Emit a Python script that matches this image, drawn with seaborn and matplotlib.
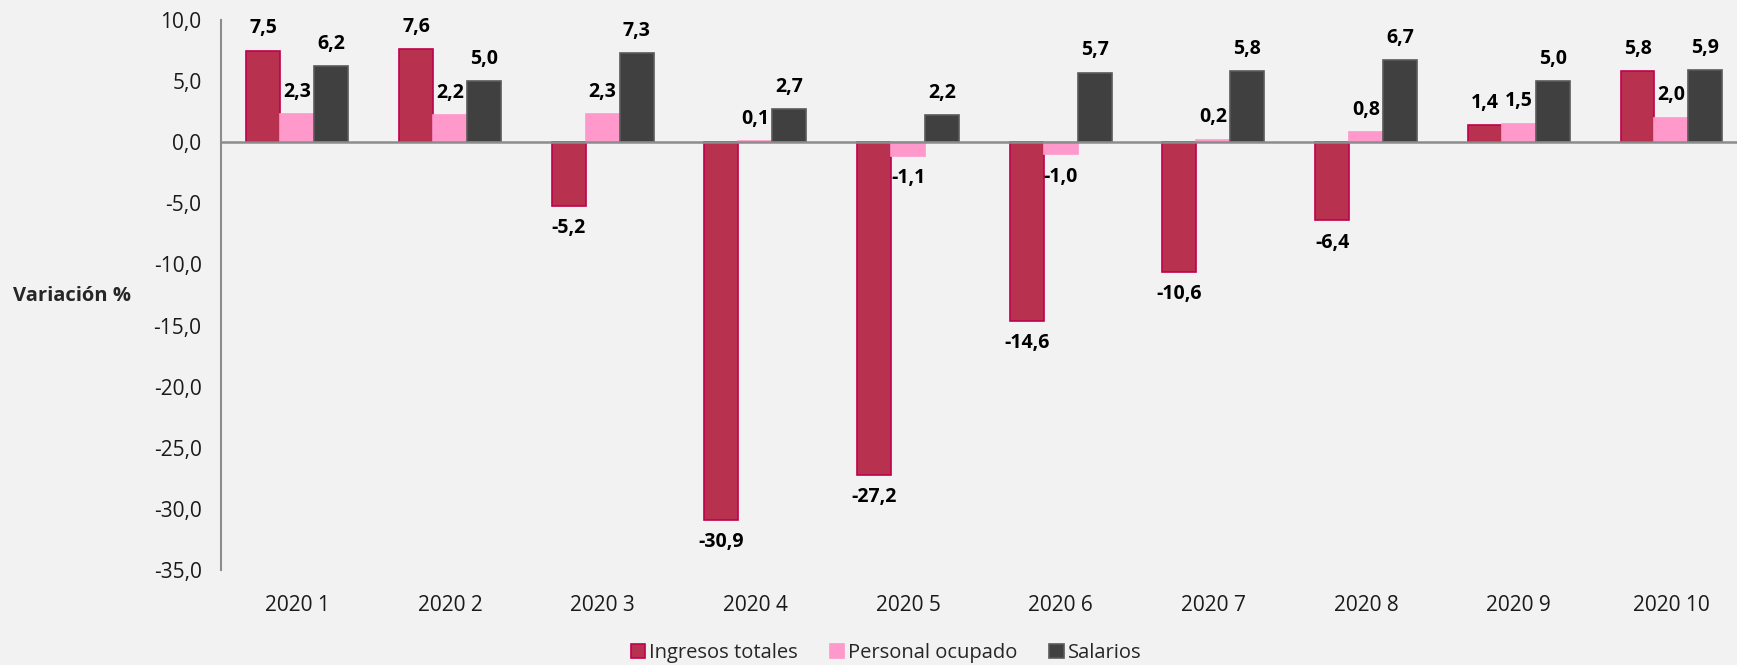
import pandas as pd
import matplotlib.pyplot as plt
import seaborn as sns

# chart values
periodos = ['2020 1', '2020 2', '2020 3', '2020 4', '2020 5',
            '2020 6', '2020 7', '2020 8', '2020 9', '2020 10']
ingresos = [7.5, 7.6, -5.2, -30.9, -27.2, -14.6, -10.6, -6.4, 1.4, 5.8]
personal = [2.3, 2.2, 2.3, 0.1, -1.1, -1.0, 0.2, 0.8, 1.5, 2.0]
salarios = [6.2, 5.0, 7.3, 2.7, 2.2, 5.7, 5.8, 6.7, 5.0, 5.9]
series = ['Ingresos totales', 'Personal ocupado', 'Salarios']
yticks = [10, 5, 0, -5, -10, -15, -20, -25, -30, -35]

df = pd.DataFrame({
    'periodo': periodos * 3,
    'serie': [series[0]] * 10 + [series[1]] * 10 + [series[2]] * 10,
    'valor': ingresos + personal + salarios,
})

sns.set_style('white')
plt.rcParams['font.family'] = ['Open Sans', 'DejaVu Sans']

bg = '#F2F2F2'
colors = ['#B83250', '#FF99CC', '#404040']
edges = ['#C0004D', '#FF99CC', '#5A5A5A']

fig = plt.figure(figsize=(17.37, 6.65), dpi=100, facecolor=bg)
ax = fig.add_axes([0.1272, 0.1429, 0.879, 0.827], facecolor=bg)

sns.barplot(data=df, x='periodo', y='valor', hue='serie', order=periodos,
            hue_order=series, palette=colors, width=0.667, gap=0,
            saturation=1, ax=ax, legend=True)

for cont, ec, vals in zip(ax.containers, edges, [ingresos, personal, salarios]):
    for bar in cont:
        bar.set_edgecolor(ec)
        bar.set_linewidth(1.2)
    labels = [f'{v:.1f}'.replace('.', ',') for v in vals]
    ax.bar_label(cont, labels=labels, padding=9, fontsize=14,
                 fontweight='bold', color='black')

ax.set_xlim(-0.5, 9.5)
ax.set_ylim(-35, 10)
ax.set_yticks(yticks)
ax.set_yticklabels([f'{v:.1f}'.replace('.', ',') for v in yticks])
ax.tick_params(axis='y', length=0, labelsize=15, pad=14, colors='#1A1A1A')
ax.tick_params(axis='x', length=0, labelsize=15, pad=18, colors='#1A1A1A')

for s in ['top', 'right', 'bottom']:
    ax.spines[s].set_visible(False)
ax.spines['left'].set_color('#8C8C8C')
ax.spines['left'].set_linewidth(1.5)
ax.axhline(0, color='#8C8C8C', linewidth=1.8, zorder=3)

ax.set_xlabel('')
ax.set_ylabel('')
fig.text(0.0075, 0.555, 'Variación %', fontsize=14.5, fontweight='bold',
         va='center', ha='left')

handles, lbls = ax.get_legend_handles_labels()
for h, ec in zip(handles, edges):
    h.set_edgecolor(ec)
    h.set_linewidth(1.2)
ax.legend(handles, lbls, loc='center', bbox_to_anchor=(0.51, 0.018),
          bbox_transform=fig.transFigure, ncol=3, frameon=False,
          fontsize=14.5, handlelength=0.7, handleheight=0.7,
          handletextpad=0.2, columnspacing=1.6, borderpad=0)

fig.savefig('out.png', dpi=100, facecolor=bg)
